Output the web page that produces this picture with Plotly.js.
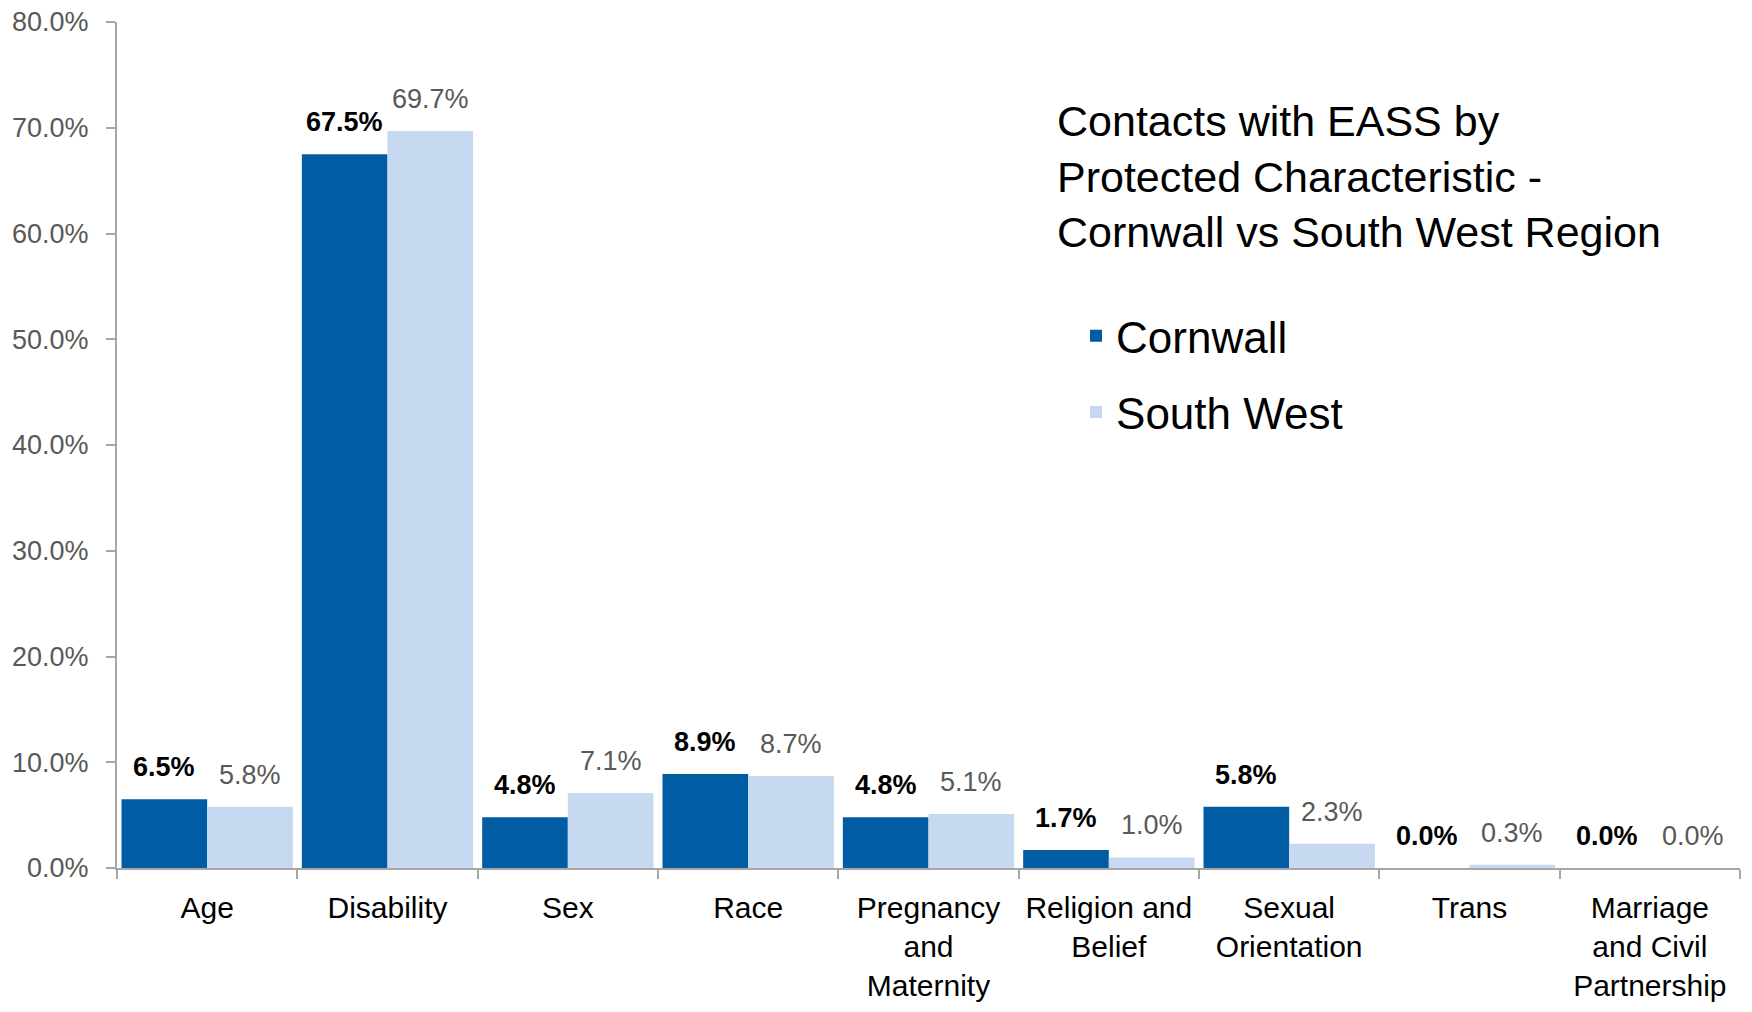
<!DOCTYPE html>
<html>
<head>
<meta charset="utf-8">
<script src="https://cdn.plot.ly/plotly-3.0.1.min.js"></script>
<style>html,body{margin:0;padding:0;background:#fff;}#chart{width:1752px;height:1012px;}</style>
</head>
<body>
<div id="chart"></div>
<script>
const categories = ['Age', 'Disability', 'Sex', 'Race', 'Pregnancy and Maternity', 'Religion and Belief', 'Sexual Orientation', 'Trans', 'Marriage and Civil Partnership'];
const tickLabels = ['Age', 'Disability', 'Sex', 'Race', 'Pregnancy<br>and<br>Maternity', 'Religion and<br>Belief', 'Sexual<br>Orientation', 'Trans', 'Marriage<br>and Civil<br>Partnership'];
const cornwall = [6.5, 67.5, 4.8, 8.9, 4.8, 1.7, 5.8, 0.0, 0.0];
const southWest = [5.8, 69.7, 7.1, 8.7, 5.1, 1.0, 2.3, 0.3, 0.0];
const seriesNames = ['Cornwall', 'South West'];
const titleLines = ['Contacts with EASS by', 'Protected Characteristic -', 'Cornwall vs South West Region'];

const FONT = 'Liberation Sans, Arial, sans-serif';
const colCorn = '#005da4';
const colSW = '#c6d9f0';

const traces = [
  {type: 'bar', name: seriesNames[0], x: categories, y: cornwall, marker: {color: colCorn}, legendgroup: 'a', hoverinfo: 'skip'},
  {type: 'bar', name: seriesNames[1], x: categories, y: southWest, marker: {color: colSW}, legendgroup: 'b', hoverinfo: 'skip'}
];

const annotations = [];
cornwall.forEach((v, i) => annotations.push({
  x: categories[i], y: v, xref: 'x', yref: 'y', xshift: -42.8, yshift: 15,
  yanchor: 'bottom', xanchor: 'center', showarrow: false,
  text: '<b>' + v.toFixed(1) + '%</b>', font: {family: FONT, size: 27, color: '#000000'}
}));
southWest.forEach((v, i) => annotations.push({
  x: categories[i], y: v, xref: 'x', yref: 'y', xshift: 42.8, yshift: 15,
  yanchor: 'bottom', xanchor: 'center', showarrow: false,
  text: v.toFixed(1) + '%', font: {family: FONT, size: 27, color: '#595959'}
}));

const layout = {
  width: 1752, height: 1012,
  margin: {l: 117, r: 12, t: 22, b: 144, autoexpand: false},
  paper_bgcolor: '#ffffff', plot_bgcolor: '#ffffff',
  font: {family: FONT},
  barmode: 'group', bargap: 0.05, bargroupgap: 0,
  title: {
    text: titleLines.join('<br>'),
    font: {family: FONT, size: 43, color: '#000000'},
    x: 1057 / 1752, xref: 'container', xanchor: 'left',
    y: 0.866, yref: 'container', yanchor: 'top', align: 'left'
  },
  showlegend: true,
  legend: {
    x: 0.5909, xanchor: 'left',
    y: 0.6706, yanchor: 'top',
    font: {family: FONT, size: 44, color: '#000000'},
    traceorder: 'grouped', tracegroupgap: 16,
    bgcolor: 'rgba(0,0,0,0)'
  },
  xaxis: {
    type: 'category',
    tickvals: categories, ticktext: tickLabels, tickangle: 0,
    showline: true, linecolor: '#a6a6a6', linewidth: 2,
    ticks: 'outside', tickson: 'boundaries', ticklen: 9, tickcolor: '#a6a6a6', tickwidth: 2,
    ticklabelstandoff: 12,
    tickfont: {family: FONT, size: 30, color: '#000000'},
    showgrid: false, zeroline: false, fixedrange: true
  },
  yaxis: {
    range: [0, 80], dtick: 10, tick0: 0,
    tickformat: '.1f', ticksuffix: '%',
    showline: true, linecolor: '#a6a6a6', linewidth: 2,
    ticks: 'outside', ticklen: 9, tickcolor: '#a6a6a6', tickwidth: 2,
    ticklabelstandoff: 12,
    tickfont: {family: FONT, size: 27, color: '#595959'},
    showgrid: false, zeroline: false, fixedrange: true
  },
  annotations: annotations
};

Plotly.newPlot('chart', traces, layout, {displayModeBar: false, staticPlot: true});
</script>
</body>
</html>
